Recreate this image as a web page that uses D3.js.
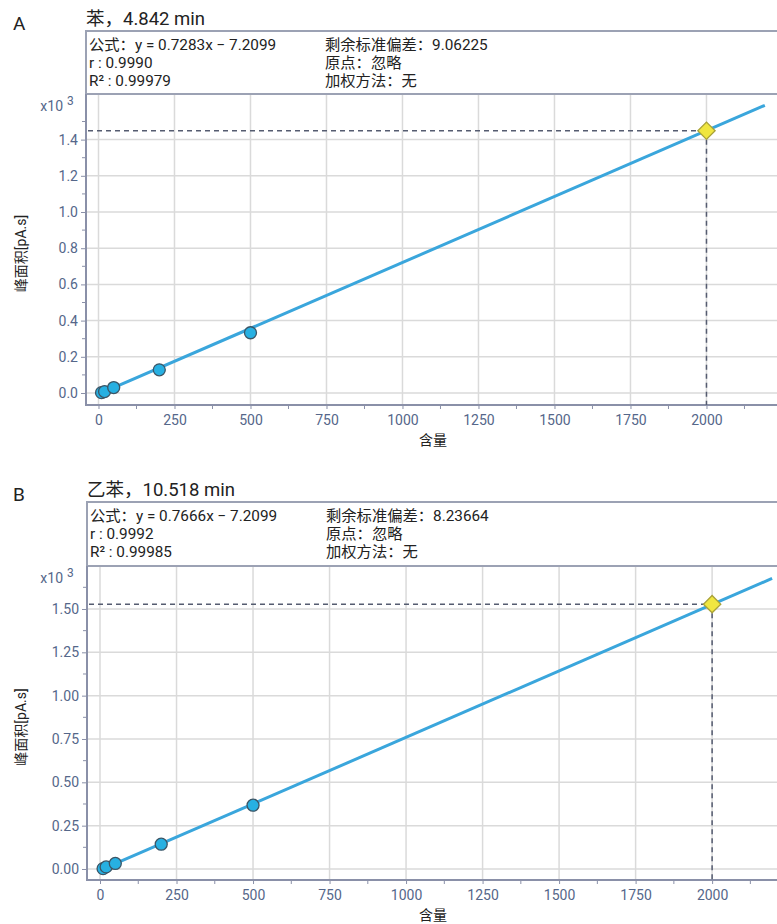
<!DOCTYPE html>
<html><head><meta charset="utf-8">
<script src="https://cdn.jsdelivr.net/npm/d3@7"></script>
<style>
body{margin:0;background:#fff;}
svg{display:block;font-family:Roboto,"Noto Sans CJK SC",sans-serif;}
</style></head>
<body><svg id="c" width="777" height="924"></svg>
<script>
// ---- data ----
const panelLetters = ["A", "B"];
const titles = ["苯，4.842 min", "乙苯，10.518 min"];
const formulas = ["公式：y = 0.7283x − 7.2099", "公式：y = 0.7666x − 7.2099"];
const rValues = ["r : 0.9990", "r : 0.9992"];
const r2Values = ["R² : 0.99979", "R² : 0.99985"];
const residuals = ["剩余标准偏差：9.06225", "剩余标准偏差：8.23664"];
const originText = "原点：忽略";
const weightText = "加权方法：无";
const slopes = [0.7283, 0.7666];
const intercepts = [-7.2099, -7.2099];
const concA = [10, 20, 50, 200, 500];
const areaA = [2, 8, 30, 128, 333];
const concB = [10, 20, 50, 200, 500];
const areaB = [2, 12, 32, 143, 368];
const unknownX = [2000, 2000];
const unknownY = [1449, 1528];
const xTicks = [0, 250, 500, 750, 1000, 1250, 1500, 1750, 2000];
const yTicksA = [0, 0.2, 0.4, 0.6, 0.8, 1.0, 1.2, 1.4];
const yTicksB = [0, 0.25, 0.5, 0.75, 1.0, 1.25, 1.5];
const xLabel = "含量";
const yLabel = "峰面积[pA.s]";

const svg = d3.select("#c");
const tickCol = "#55678a", axisCol = "#8a90a8", gridCol = "#dadada";

function panel(i, cfg) {
  const conc = i === 0 ? concA : concB;
  const area = i === 0 ? areaA : areaB;
  const yTicks = i === 0 ? yTicksA : yTicksB;
  const x = d3.scaleLinear().domain(cfg.xd).range([cfg.left, 777]);
  const y = d3.scaleLinear().domain(cfg.yd).range([cfg.bottom, cfg.top]);
  const g = svg.append("g");

  // letter & title
  g.append("text").attr("x", 13).attr("y", cfg.boxTop - 1).attr("font-size", 19).attr("fill", "#222").text(panelLetters[i]);
  g.append("text").attr("x", cfg.left).attr("y", cfg.boxTop - 6).attr("font-size", 18.5).attr("fill", "#222").text(titles[i]);

  // header box
  g.append("rect").attr("x", cfg.left).attr("y", cfg.boxTop).attr("width", 777 - cfg.left + 5).attr("height", cfg.top - cfg.boxTop)
    .attr("fill", "#fff").attr("stroke", "#9ca2b4").attr("stroke-width", 2);
  const lx = cfg.left + 3, rx = cfg.left + 239;
  const lines = [[formulas[i], residuals[i]], [rValues[i], originText], [r2Values[i], weightText]];
  const tx = g.append("g").attr("font-size", 15.3).attr("fill", "#222");
  lines.forEach((pair, k) => {
    const yy = cfg.boxTop + 18.5 + k * 18;
    tx.append("text").attr("x", lx).attr("y", yy).text(pair[0]);
    tx.append("text").attr("x", rx).attr("y", yy).text(pair[1]);
  });

  // grid
  g.append("g").selectAll("line").data(xTicks).join("line")
    .attr("x1", d => x(d)).attr("x2", d => x(d)).attr("y1", cfg.top + 1).attr("y2", cfg.bottom)
    .attr("stroke", gridCol).attr("stroke-width", 1.5);
  g.append("g").selectAll("line").data(yTicks).join("line")
    .attr("x1", cfg.left).attr("x2", 777).attr("y1", d => y(d)).attr("y2", d => y(d))
    .attr("stroke", gridCol).attr("stroke-width", 1.5);

  // axes
  const yMinor = d3.range(0, yTicks[yTicks.length - 1] + cfg.minorStep * 2, cfg.minorStep)
    .filter(v => v <= cfg.yd[1] && !yTicks.some(t => Math.abs(t - v) < 1e-9));
  const xMinor = d3.range(125, 2250, 250);
  const ax = g.append("g").attr("transform", `translate(0,${cfg.bottom})`)
    .call(d3.axisBottom(x).tickValues(xTicks).tickSize(4).tickFormat(d3.format("d")));
  ax.select(".domain").remove();
  ax.selectAll("line").attr("stroke", axisCol);
  ax.selectAll("text").attr("font-size", 14).attr("fill", tickCol).attr("dy", "0.95em").attr("font-family", "Roboto");
  g.append("g").selectAll("line").data(xMinor).join("line")
    .attr("x1", d => x(d)).attr("x2", d => x(d)).attr("y1", cfg.bottom).attr("y2", cfg.bottom + 4).attr("stroke", axisCol);

  const ay = g.append("g").attr("transform", `translate(${cfg.left},0)`)
    .call(d3.axisLeft(y).tickValues(yTicks).tickSize(5).tickFormat(d3.format(cfg.fmt)));
  ay.select(".domain").remove();
  ay.selectAll("line").attr("stroke", axisCol);
  ay.selectAll("text").attr("font-size", 14).attr("fill", tickCol).attr("x", -8).attr("font-family", "Roboto");
  g.append("g").selectAll("line").data(yMinor).join("line")
    .attr("x1", cfg.left - 4).attr("x2", cfg.left).attr("y1", d => y(d)).attr("y2", d => y(d)).attr("stroke", axisCol);

  g.append("line").attr("x1", cfg.left).attr("x2", 777).attr("y1", cfg.bottom).attr("y2", cfg.bottom).attr("stroke", axisCol).attr("stroke-width", 2);
  g.append("line").attr("x1", cfg.left).attr("x2", cfg.left).attr("y1", cfg.top).attr("y2", cfg.bottom + 1).attr("stroke", axisCol).attr("stroke-width", 2);

  // x10^3
  g.append("text").attr("x", 63).attr("y", cfg.top + 17).attr("font-size", 14).attr("fill", tickCol).attr("text-anchor", "end").text("x10");
  g.append("text").attr("x", 67).attr("y", cfg.top + 11).attr("font-size", 12).attr("fill", tickCol).text("3");

  // labels
  g.append("text").attr("x", 433).attr("y", cfg.bottom + 40).attr("text-anchor", "middle").attr("font-size", 14).attr("fill", "#222").text(xLabel);
  g.append("text").attr("transform", `translate(26,${(cfg.top + cfg.bottom) / 2 + 4}) rotate(-90)`).attr("text-anchor", "middle")
    .attr("font-size", 14).attr("fill", "#222").text(yLabel);

  // dashed guides
  const ux = unknownX[i], uy = unknownY[i] / 1000;
  g.append("line").attr("x1", cfg.left + 2).attr("x2", x(ux)).attr("y1", y(uy)).attr("y2", y(uy))
    .attr("stroke", "#555c70").attr("stroke-width", 1.5).attr("stroke-dasharray", "5,4");
  g.append("line").attr("x1", x(ux)).attr("x2", x(ux)).attr("y1", y(uy)).attr("y2", cfg.bottom)
    .attr("stroke", "#555c70").attr("stroke-width", 1.5).attr("stroke-dasharray", "5,4");

  // regression line
  const fx = [conc[0], cfg.lineEnd];
  g.append("path").datum(fx)
    .attr("d", d3.line().x(d => x(d)).y(d => y((slopes[i] * d + intercepts[i]) / 1000)))
    .attr("fill", "none").attr("stroke", "#3aa6dc").attr("stroke-width", 3);

  // points
  g.append("g").selectAll("circle").data(conc.map((c, k) => [c, area[k]])).join("circle")
    .attr("cx", d => x(d[0])).attr("cy", d => y(d[1] / 1000)).attr("r", 6)
    .attr("fill", "#27b0e2").attr("stroke", "#3b5566").attr("stroke-width", 1.3);

  // unknown diamond
  g.append("path").attr("d", d3.symbol().type(d3.symbolSquare).size(150)())
    .attr("transform", `translate(${x(ux)},${y(uy)}) rotate(45)`)
    .attr("fill", "#f0e640").attr("stroke", "#a9a23a").attr("stroke-width", 1.3);
}

panel(0, { left: 86, top: 94, bottom: 405, boxTop: 31, xd: [-41.1, 2232], yd: [-0.0663, 1.652], fmt: ".1f", minorStep: 0.1, lineEnd: 2192 });
panel(1, { left: 87, top: 566, bottom: 880, boxTop: 502, xd: [-42.5, 2212], yd: [-0.0635, 1.748], fmt: ".2f", minorStep: 0.125, lineEnd: 2196 });
</script></body></html>
